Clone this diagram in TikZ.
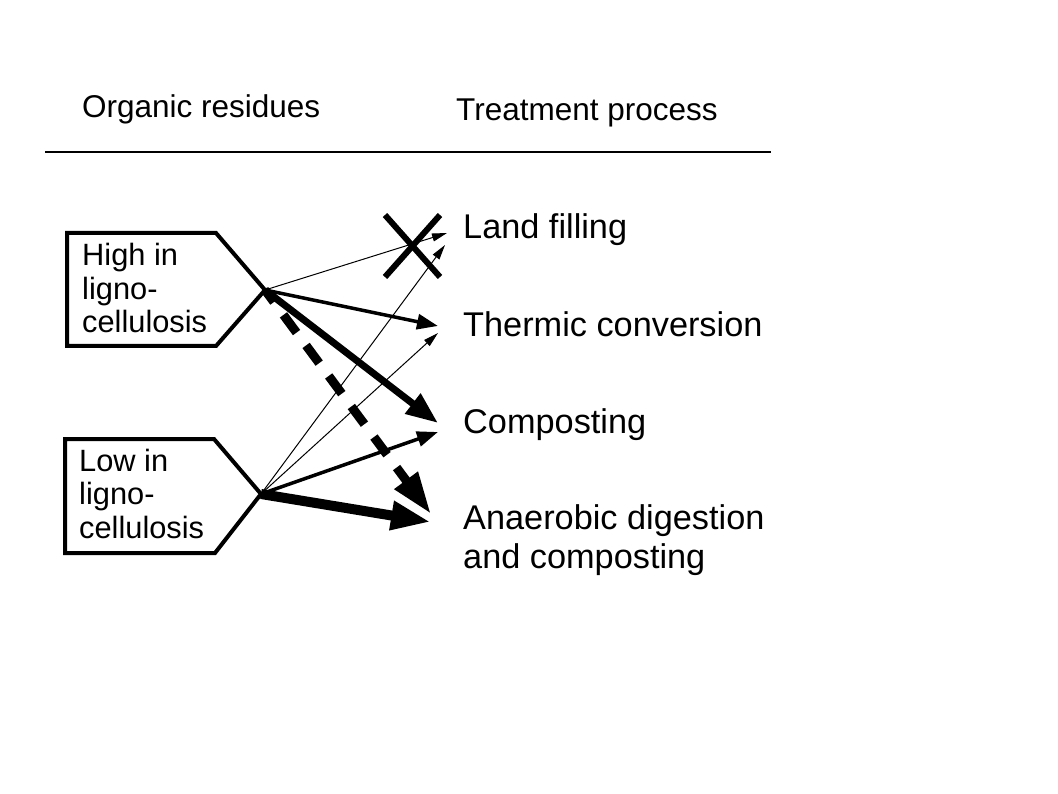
\documentclass[tikz,border=0pt]{standalone}
\usepackage{fontspec}
\setmainfont{Liberation Sans}
\usetikzlibrary{arrows.meta}
\begin{document}
\begin{tikzpicture}[x=1pt,y=-1pt,
  hdr/.style={anchor=base west,inner sep=0pt,font=\fontsize{31.5}{36}\selectfont},
  boxtxt/.style={anchor=base west,inner sep=0pt,font=\fontsize{30.8}{33.5}\selectfont},
  lbl/.style={anchor=base west,inner sep=0pt,font=\fontsize{34.3}{39}\selectfont},
  srcbox/.style={line width=4pt,line join=miter,draw=black},
  thin/.style={line width=1pt,-{Triangle[length=15pt,width=8pt]}},
  medium/.style={line width=3.5pt,-{Triangle[length=21pt,width=15pt]}},
  thick/.style={line width=7pt,-{Triangle[length=32pt,width=24pt]}},
  heavy/.style={line width=10pt,-{Triangle[length=40pt,width=27pt]}},
  dashheavy/.style={line width=9pt,dash pattern=on 22pt off 16pt,dash phase=7pt,-{Triangle[length=42pt,width=27pt]}},
  cross/.style={line width=6pt}
]
\useasboundingbox (0,0) rectangle (1058,794);

% headers
\node[hdr] (h1) at (82,118) {Organic residues};
\node[hdr] (h2) at (456,121) {Treatment process};
\draw[line width=1.5pt] (45,152) -- (771,152);

% source boxes
\coordinate (hiTip) at (265,290);
\coordinate (loTip) at (261,494);
\draw[srcbox] (67,233) -- (216,233) -- (hiTip) -- (216,346) -- (67,346) -- cycle;
\draw[srcbox] (65,439) -- (214,439) -- (loTip) -- (215,553) -- (65,553) -- cycle;
\node[boxtxt] (hi) at (82,266) {\begin{tabular}[t]{@{}l@{}}High in\\ligno-\\cellulosis\end{tabular}};
\node[boxtxt] (lo) at (79,471) {\begin{tabular}[t]{@{}l@{}}Low in\\ligno-\\cellulosis\end{tabular}};

% treatment labels
\node[lbl] (lf) at (463,239) {Land filling};
\node[lbl] (tc) at (463,337) {Thermic conversion};
\node[lbl] (cp) at (463,433) {Composting};
\node[lbl] (ad) at (463,529) {\begin{tabular}[t]{@{}l@{}}Anaerobic digestion\\and composting\end{tabular}};

% arrow end points
\coordinate (lfA) at (447,233);
\coordinate (lfB) at (445,245);
\coordinate (tcA) at (438,326);
\coordinate (tcB) at (438,333);
\coordinate (cpA) at (438,423);
\coordinate (cpB) at (438,432);
\coordinate (adA) at (431,514);
\coordinate (adB) at (431,522);

% connectors from high lignocellulosis
\draw[thin] (hiTip) -- (lfA);
\draw[medium] (hiTip) -- (tcA);
\draw[thick] (hiTip) -- (cpA);
\draw[dashheavy] (hiTip) -- (adA);

% connectors from low lignocellulosis
\draw[thin] (loTip) -- (lfB);
\draw[thin] (loTip) -- (tcB);
\draw[medium] (loTip) -- (cpB);
\draw[heavy] (loTip) -- (adB);

% cross over land filling
\coordinate (xa) at (385,215);
\coordinate (xb) at (440,277);
\coordinate (xc) at (440,215);
\coordinate (xd) at (385,277);
\draw[cross] (xa) -- (xb);
\draw[cross] (xc) -- (xd);
\end{tikzpicture}
\end{document}
